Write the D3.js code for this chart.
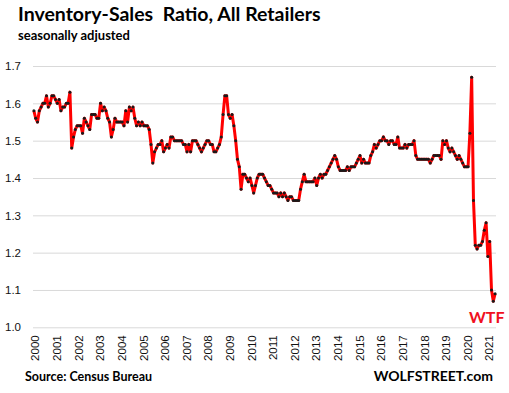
<!DOCTYPE html>
<html>
<head>
<meta charset="utf-8">
<script src="https://cdn.jsdelivr.net/npm/d3@7/dist/d3.min.js"></script>
<style>
body { margin: 0; background: #fff; }
svg { display: block; }
.label { font-family: Lato, "Open Sans", sans-serif; font-weight: bold; white-space: pre; }
.axis text { font-family: "Liberation Sans", Arial, sans-serif; font-size: 11.5px; fill: #111; }
</style>
</head>
<body>
<svg id="chart" width="509" height="393"></svg>
<script>
var titleText = "Inventory-Sales  Ratio, All Retailers";
var subtitleText = "seasonally adjusted";
var sourceText = "Source: Census Bureau";
var brandText = "WOLFSTREET.com";
var noteText = "WTF";

var yTickValues = [1.0, 1.1, 1.2, 1.3, 1.4, 1.5, 1.6, 1.7];
var yearLabels = d3.range(2000, 2022).map(String);

// monthly ratios, Jan 2000 .. May 2021
var ratio2000to2004 = [
    1.58, 1.56, 1.55, 1.58, 1.59, 1.60, 1.60, 1.62, 1.59, 1.60, 1.62, 1.62,
    1.61, 1.60, 1.61, 1.58, 1.59, 1.59, 1.60, 1.60, 1.63, 1.48, 1.51, 1.53,
    1.54, 1.54, 1.54, 1.52, 1.56, 1.55, 1.54, 1.53, 1.57, 1.57, 1.57, 1.56,
    1.56, 1.60, 1.58, 1.59, 1.58, 1.56, 1.55, 1.51, 1.53, 1.56, 1.55, 1.55,
    1.55, 1.55, 1.54, 1.58, 1.55, 1.59, 1.58, 1.59, 1.56, 1.54, 1.55, 1.54
];
var ratio2005to2009 = [
    1.55, 1.54, 1.54, 1.54, 1.53, 1.49, 1.44, 1.47, 1.48, 1.49, 1.49, 1.50,
    1.47, 1.48, 1.49, 1.48, 1.51, 1.51, 1.50, 1.50, 1.50, 1.50, 1.50, 1.49,
    1.49, 1.47, 1.49, 1.47, 1.50, 1.50, 1.50, 1.49, 1.48, 1.47, 1.48, 1.49,
    1.50, 1.50, 1.49, 1.49, 1.47, 1.47, 1.48, 1.49, 1.51, 1.57, 1.62, 1.62,
    1.57, 1.56, 1.57, 1.54, 1.50, 1.45, 1.43, 1.37, 1.41, 1.41, 1.40, 1.39
];
var ratio2010to2014 = [
    1.40, 1.38, 1.36, 1.38, 1.40, 1.41, 1.41, 1.41, 1.40, 1.39, 1.38, 1.38,
    1.37, 1.36, 1.36, 1.36, 1.35, 1.36, 1.35, 1.36, 1.35, 1.34, 1.35, 1.35,
    1.34, 1.34, 1.34, 1.34, 1.37, 1.39, 1.41, 1.39, 1.39, 1.39, 1.39, 1.39,
    1.40, 1.38, 1.40, 1.41, 1.40, 1.41, 1.41, 1.42, 1.43, 1.44, 1.45, 1.46,
    1.45, 1.43, 1.42, 1.42, 1.42, 1.42, 1.43, 1.42, 1.43, 1.43, 1.43, 1.44
];
var ratio2015to2019 = [
    1.45, 1.46, 1.44, 1.45, 1.44, 1.44, 1.44, 1.46, 1.47, 1.49, 1.48, 1.49,
    1.50, 1.50, 1.51, 1.50, 1.50, 1.49, 1.50, 1.50, 1.49, 1.49, 1.51, 1.48,
    1.48, 1.48, 1.49, 1.48, 1.49, 1.49, 1.49, 1.50, 1.46, 1.45, 1.45, 1.45,
    1.45, 1.45, 1.45, 1.45, 1.44, 1.45, 1.46, 1.46, 1.46, 1.46, 1.45, 1.50,
    1.49, 1.50, 1.48, 1.47, 1.48, 1.47, 1.46, 1.45, 1.46, 1.45, 1.44, 1.43
];
var ratio2020to2021 = [
    1.43, 1.43, 1.52, 1.67, 1.34, 1.22, 1.21, 1.22, 1.22, 1.23, 1.26, 1.28,
    1.19, 1.23, 1.10, 1.07, 1.09
];

var values = [].concat(ratio2000to2004, ratio2005to2009, ratio2010to2014, ratio2015to2019, ratio2020to2021);
var months = d3.timeMonth.range(new Date(2000, 0, 1), new Date(2000, values.length, 1));
var fmtKey = d3.timeFormat("%Y-%m");
var data = months.map(function(m, i) { return {key: fmtKey(m), value: values[i]}; });

var svg = d3.select("#chart");
var plotLeft = 33, plotRight = 496, plotTop = 66, plotBottom = 327.3;

var x = d3.scalePoint()
    .domain(data.map(function(d) { return d.key; }))
    .range([plotLeft, plotRight])
    .padding(0.5);

var y = d3.scaleLinear()
    .domain([1.0, 1.7])
    .range([plotBottom, plotTop]);

// gridlines + y labels
var yAxis = svg.append("g")
    .attr("class", "axis")
    .attr("transform", "translate(" + plotLeft + ",0)")
    .call(d3.axisLeft(y)
        .tickValues(yTickValues)
        .tickFormat(d3.format(".1f"))
        .tickSize(-(plotRight - plotLeft))
        .tickPadding(12));
yAxis.select(".domain").remove();
yAxis.selectAll(".tick line").attr("stroke", "#d9d9d9").attr("stroke-width", 1);

// year labels on each January
var xAxis = svg.append("g")
    .attr("class", "axis")
    .attr("transform", "translate(0," + plotBottom + ")")
    .call(d3.axisBottom(x)
        .tickValues(yearLabels.map(function(yr) { return yr + "-01"; }))
        .tickFormat(function(k) { return k.slice(0, 4); })
        .tickSize(0));
xAxis.select(".domain").remove();
xAxis.selectAll("text")
    .attr("transform", "rotate(-90)")
    .attr("x", -8)
    .attr("y", 1)
    .attr("dy", "0.35em")
    .style("text-anchor", "end");

var line = d3.line()
    .x(function(d) { return x(d.key); })
    .y(function(d) { return y(d.value); });

svg.append("path")
    .datum(data)
    .attr("fill", "none")
    .attr("stroke", "#ff0000")
    .attr("stroke-width", 3)
    .attr("stroke-linejoin", "round")
    .attr("d", line);

svg.append("g")
    .selectAll("circle")
    .data(data)
    .enter().append("circle")
    .attr("cx", function(d) { return x(d.key); })
    .attr("cy", function(d) { return y(d.value); })
    .attr("r", 1.5)
    .attr("fill", "#1a1a1a");

svg.append("text").attr("class", "label")
    .attr("x", 18).attr("y", 21)
    .style("font-size", "19.5px")
    .text(titleText);

svg.append("text").attr("class", "label")
    .attr("x", 18).attr("y", 40)
    .style("font-size", "13px")
    .text(subtitleText);

svg.append("text").attr("class", "label")
    .attr("x", 25).attr("y", 381)
    .style("font-size", "12.5px")
    .text(sourceText);

svg.append("text").attr("class", "label")
    .attr("x", 493).attr("y", 381)
    .attr("text-anchor", "end")
    .style("font-size", "14px")
    .text(brandText);

svg.append("text").attr("class", "label")
    .attr("x", 469).attr("y", 323)
    .attr("fill", "#f01020")
    .style("font-size", "16px")
    .text(noteText);
</script>
</body>
</html>
